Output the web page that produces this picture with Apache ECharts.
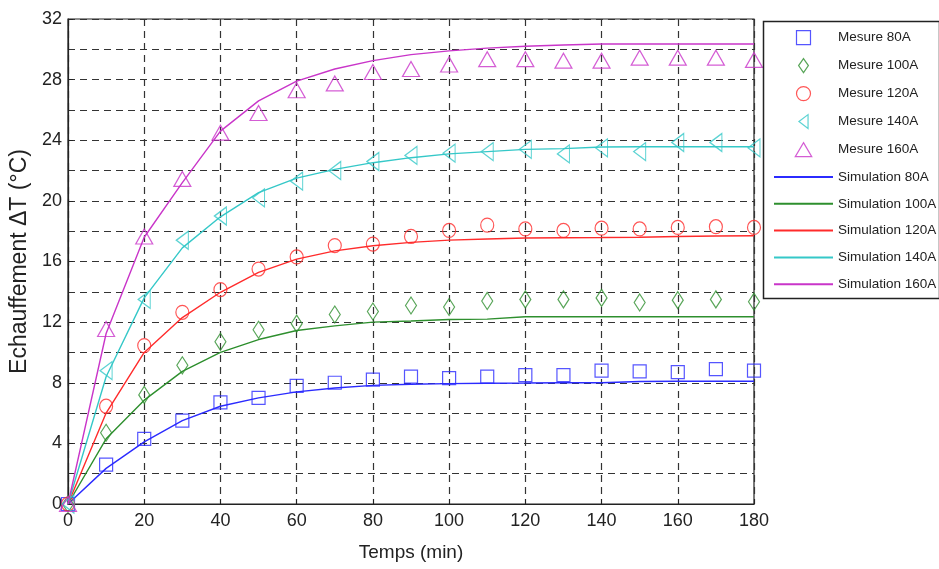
<!DOCTYPE html>
<html>
<head>
<meta charset="utf-8">
<script src="https://cdn.jsdelivr.net/npm/echarts@6/dist/echarts.min.js"></script>
<style>
html,body{margin:0;padding:0;background:#fff;}
#chart{width:939px;height:569px;}
</style>
</head>
<body>
<div id="chart"></div>
<script>
// Time (min)
const time = [0,10,20,30,40,50,60,70,80,90,100,110,120,130,140,150,160,170,180];

// Measured values (°C)
const mes80  = [0,2.6,4.3,5.5,6.7,7.0,7.8,8.0,8.2,8.4,8.3,8.4,8.5,8.5,8.8,8.75,8.7,8.9,8.8];
const mes100 = [0,4.7,7.2,9.15,10.7,11.5,11.9,12.5,12.7,13.1,13.0,13.4,13.5,13.5,13.6,13.3,13.45,13.5,13.35];
const mes120 = [0,6.45,10.45,12.65,14.15,15.5,16.3,17.05,17.15,17.65,18.05,18.4,18.15,18.05,18.2,18.15,18.25,18.3,18.25];
const mes140 = [0,8.8,13.5,17.4,19.0,20.2,21.3,22.0,22.6,23.0,23.15,23.25,23.4,23.1,23.5,23.25,23.85,23.85,23.5];
const mes160 = [0,11.55,17.65,21.45,24.5,25.8,27.3,27.75,28.5,28.7,29.0,29.35,29.35,29.25,29.25,29.45,29.45,29.45,29.3];

// Simulated values (°C)
const sim80  = [0,2.35,4.1,5.5,6.45,7.0,7.4,7.65,7.83,7.9,7.94,7.97,7.98,8.0,8.0,8.08,8.1,8.1,8.1];
const sim100 = [0,4.3,6.85,8.75,10.0,10.85,11.45,11.75,12.0,12.07,12.17,12.2,12.35,12.35,12.35,12.35,12.35,12.35,12.35];
const sim120 = [0,6.0,10.0,12.3,13.97,15.28,16.16,16.7,17.04,17.26,17.41,17.48,17.55,17.57,17.58,17.6,17.65,17.68,17.7];
const sim140 = [0,8.4,13.6,16.9,18.95,20.55,21.5,22.08,22.52,22.85,23.1,23.25,23.4,23.45,23.55,23.57,23.57,23.57,23.57];
const sim160 = [0,11.25,17.6,21.2,24.6,26.6,27.9,28.7,29.25,29.65,29.9,30.08,30.2,30.28,30.35,30.35,30.35,30.35,30.35];

const mesNames = ['Mesure 80A','Mesure 100A','Mesure 120A','Mesure 140A','Mesure 160A'];
const simNames = ['Simulation 80A','Simulation 100A','Simulation 120A','Simulation 140A','Simulation 160A'];
const colors = ['#2b2bff','#2e8f2e','#ff2b2b','#35c8c8','#c935c9'];

const mesData = [mes80, mes100, mes120, mes140, mes160];
const simData = [sim80, sim100, sim120, sim140, sim160];

// marker shapes (square, diamond, circle, left triangle, up triangle)
const symbols = [
  'path://M0,0 L10,0 L10,10 L0,10 Z',
  'path://M7,0 L14,10 L7,20 L0,10 Z',
  'path://M0,10 A10,10 0 1,0 20,10 A10,10 0 1,0 0,10 Z',
  'path://M0,10 L13,0 L13,20 Z',
  'path://M10,0 L20,17 L0,17 Z'
];
const symbolSizes = [[13,13],[11,17],[13,14],[12,18],[17,15]];

const font = "'Liberation Sans',Arial,Helvetica,sans-serif";
const pair = arr => arr.map((v,i)=>[time[i], v]);

const series = [];
for (let i=0;i<5;i++){
  series.push({
    name: simNames[i], type:'line', data: pair(simData[i]),
    symbol:'none', smooth:false, z:2,
    lineStyle:{color:colors[i], width:1.4},
    itemStyle:{color:colors[i]}
  });
}
for (let i=0;i<5;i++){
  series.push({
    name: mesNames[i], type:'scatter', data: pair(mesData[i]),
    symbol: symbols[i], symbolSize: symbolSizes[i], symbolKeepAspect:false, z:3,
    itemStyle:{color:'rgba(0,0,0,0)', borderColor:colors[i], borderWidth:1.2}
  });
}

const legendData = mesNames.map(n=>({name:n, itemStyle:{borderWidth:1.2}}))
  .concat(simNames.map(n=>({name:n, itemStyle:{opacity:0}})));

const chart = echarts.init(document.getElementById('chart'), null, {renderer:'canvas'});
chart.setOption({
  animation:false,
  backgroundColor:'#fff',
  grid:{left:68, right:185, top:19, bottom:65, show:true, borderColor:'#222', borderWidth:1.2, containLabel:false},
  xAxis:{
    type:'value', min:0, max:180, interval:20,
    name:'Temps (min)', nameLocation:'middle', nameGap:39,
    nameTextStyle:{fontSize:19, color:'#222', fontFamily:font},
    axisLine:{show:true, lineStyle:{color:'#222', width:1.2}},
    axisTick:{show:true, inside:true, length:5, lineStyle:{color:'#222'}},
    axisLabel:{fontSize:18, color:'#222', margin:8, fontFamily:font},
    splitLine:{show:true, lineStyle:{color:'#333', type:[7,5], width:1.2}}
  },
  yAxis:{
    type:'value', min:0, max:32, interval:4,
    name:'Echauffement \u0394T (\u00B0C)', nameLocation:'middle', nameGap:31, nameRotate:90,
    nameTextStyle:{fontSize:23, color:'#222', fontFamily:font},
    axisLine:{show:true, lineStyle:{color:'#222', width:1.2}},
    axisTick:{show:true, inside:true, length:5, lineStyle:{color:'#222'}},
    minorTick:{show:false, splitNumber:2},
    axisLabel:{fontSize:18, color:'#222', margin:6, fontFamily:font},
    splitLine:{show:true, lineStyle:{color:'#333', type:[7,5], width:1.2}},
    minorSplitLine:{show:true, lineStyle:{color:'#333', type:[7,5], width:1.2}}
  },
  legend:{
    orient:'vertical', left:768, top:25,
    itemWidth:59, itemHeight:14, itemGap:12.8,
    symbolKeepAspect:true,
    data: legendData,
    textStyle:{fontSize:13.5, color:'#222', fontFamily:font, lineHeight:14}
  },
  graphic:[{
    type:'rect', left:761, top:19, z:100,
    shape:{width:176, height:277},
    style:{fill:'none', stroke:'#222', lineWidth:1.5}
  }],
  series: series
});
</script>
</body>
</html>
